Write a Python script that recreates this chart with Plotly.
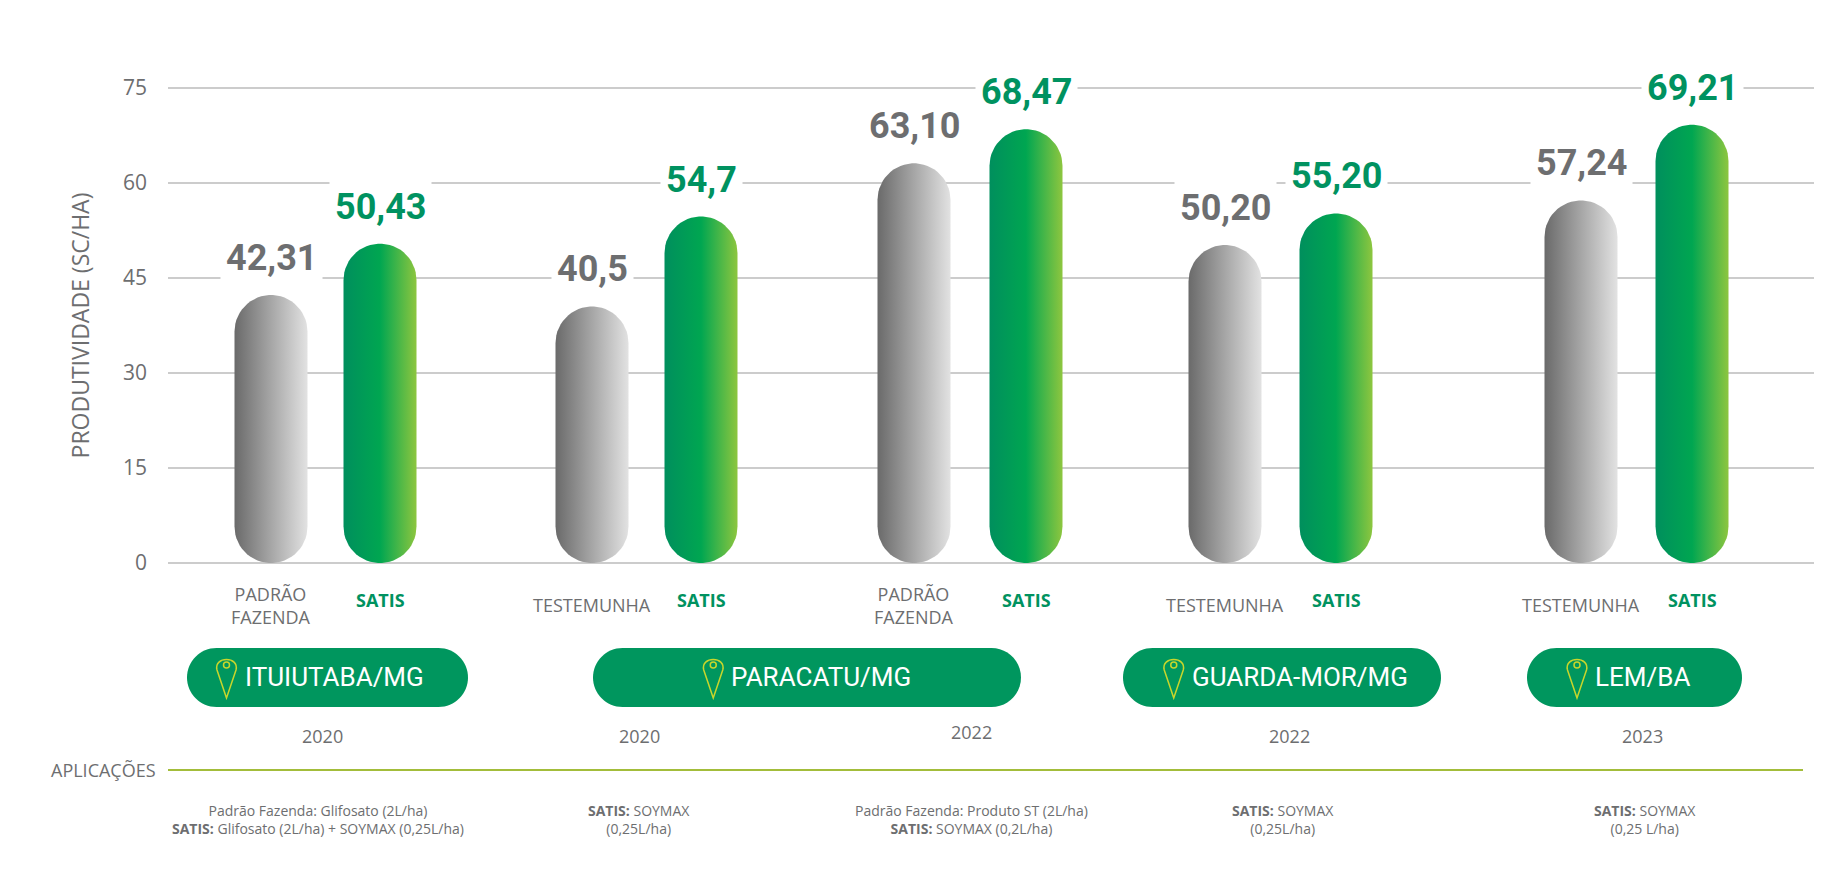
import numpy as np
import plotly.graph_objects as go

# dados
locais = ['ITUIUTABA/MG', 'PARACATU/MG', 'GUARDA-MOR/MG', 'LEM/BA']
anos = ['2020', '2020', '2022', '2022', '2023']
controle_nome = ['PADRÃO<br>FAZENDA', 'TESTEMUNHA', 'PADRÃO<br>FAZENDA', 'TESTEMUNHA', 'TESTEMUNHA']
controle_val = [42.31, 40.5, 63.10, 50.20, 57.24]
satis_val = [50.43, 54.7, 68.47, 55.20, 69.21]
controle_txt = ['42,31', '40,5', '63,10', '50,20', '57,24']
satis_txt = ['50,43', '54,7', '68,47', '55,20', '69,21']
aplicacoes = [
    'Padrão Fazenda: Glifosato (2L/ha)<br><b>SATIS:</b> Glifosato (2L/ha) + SOYMAX (0,25L/ha)',
    '<b>SATIS:</b> SOYMAX<br>(0,25L/ha)',
    'Padrão Fazenda: Produto ST (2L/ha)<br><b>SATIS:</b> SOYMAX (0,2L/ha)',
    '<b>SATIS:</b> SOYMAX<br>(0,25L/ha)',
    '<b>SATIS:</b> SOYMAX<br>(0,25 L/ha)',
]

# layout em pixels
W, H = 1836, 885
ML, MR, MT, MB = 160, 30, 78, 328
PW, PH = W - ML - MR, H - MT - MB
YLO, YHI = -0.3, 75.3
ppu = PH / (YHI - YLO)
x_ctrl = [103, 424, 746, 1057, 1413]
x_sat = [212, 533, 858, 1168, 1524]
x_ano = [154, 471, 803, 1121, 1474]
x_apl = [150, 471, 803, 1115, 1477]
pills = [(19, 300), (425, 853), (955, 1273), (1359, 1574)]
HW = 36.5
GRAY = '#6d6e70'
GREEN = '#009260'
NARROW = 'Roboto'


def pill_path(xc, v):
    ry = HW / ppu
    t1 = np.linspace(np.pi, 2 * np.pi, 30)
    t2 = np.linspace(0, np.pi, 30)
    xs = list(xc + HW * np.cos(t1)) + list(xc + HW * np.cos(t2))
    ys = list(ry + ry * np.sin(t1)) + list(v - ry + ry * np.sin(t2))
    return xs + [xs[0]], ys + [ys[0]]


def px(x):
    return x / PW


def py(y):
    return (MT + PH - y) / PH


fig = go.Figure()
for i in range(5):
    for xc, v, cs in [(x_ctrl[i], controle_val[i], [[0, '#6a6a6a'], [1, '#e2e2e2']]),
                      (x_sat[i], satis_val[i], [[0, '#008f5d'], [0.5, '#00a651'], [1, '#8dc63f']])]:
        xs, ys = pill_path(xc, v)
        fig.add_trace(go.Scatter(x=xs, y=ys, mode='lines', fill='toself', line=dict(width=0),
                                 fillgradient=dict(type='horizontal', colorscale=cs),
                                 hoverinfo='skip', showlegend=False))

ann = []
for i in range(5):
    for xc, v, t, c in [(x_ctrl[i], controle_val[i], controle_txt[i], GRAY),
                        (x_sat[i], satis_val[i], satis_txt[i], GREEN)]:
        ann.append(dict(x=xc, y=v, yshift=10, yanchor='bottom', xanchor='center', text='<b>' + t + '</b>',
                        showarrow=False, bgcolor='white', borderpad=5,
                        font=dict(family=NARROW, size=36, color=c)))
    ann.append(dict(x=x_ctrl[i], y=py(597), yref='paper', yanchor='middle', xanchor='center',
                    text=controle_nome[i], showarrow=False,
                    font=dict(family='Open Sans', size=18, color='#6d6e70')))
    ann.append(dict(x=x_sat[i], y=py(592), yref='paper', yanchor='middle', xanchor='center',
                    text='<b>SATIS</b>', showarrow=False,
                    font=dict(family='Open Sans', size=18, color=GREEN)))
    ann.append(dict(x=x_ano[i], y=py(728 if i != 2 else 724), yref='paper', yanchor='middle', xanchor='center',
                    text=anos[i], showarrow=False,
                    font=dict(family='Open Sans', size=18, color='#6d6e70')))
    ann.append(dict(x=x_apl[i], y=py(811), yref='paper', yanchor='middle', xanchor='center',
                    text=aplicacoes[i], showarrow=False,
                    font=dict(family='Open Sans', size=14, color='#6d6e70')))

shapes = []
y0p, y1p = 640, 699
r = (y1p - y0p) / 2
for (a, b), nome in zip(pills, locais):
    k = 0.5523
    path = (f'M {px(a + r)},{py(y0p)} L {px(b - r)},{py(y0p)} '
            f'C {px(b - r + k*r)},{py(y0p)} {px(b)},{py(y0p + r - k*r)} {px(b)},{py(y0p + r)} '
            f'C {px(b)},{py(y0p + r + k*r)} {px(b - r + k*r)},{py(y1p)} {px(b - r)},{py(y1p)} '
            f'L {px(a + r)},{py(y1p)} '
            f'C {px(a + r - k*r)},{py(y1p)} {px(a)},{py(y0p + r + k*r)} {px(a)},{py(y0p + r)} '
            f'C {px(a)},{py(y0p + r - k*r)} {px(a + r - k*r)},{py(y0p)} {px(a + r)},{py(y0p)} Z')
    shapes.append(dict(type='path', xref='paper', yref='paper', path=path, fillcolor='#00965e', line=dict(width=0)))
    # marcador
    tw = len(nome) * 14.5
    cx = (a + b) / 2 - tw / 2 - 14
    cy = 658
    pr = 10
    pin = (f'M {px(cx)},{py(cy + 32)} L {px(cx - pr*0.95)},{py(cy + 4)} '
           f'C {px(cx - pr*1.3)},{py(cy - 10)} {px(cx + pr*1.3)},{py(cy - 10)} {px(cx + pr*0.95)},{py(cy + 4)} Z')
    shapes.append(dict(type='path', xref='paper', yref='paper', path=pin, line=dict(color='#c8d62b', width=1.5)))
    shapes.append(dict(type='circle', xref='paper', yref='paper', x0=px(cx - 3), x1=px(cx + 3),
                       y0=py(cy + 2), y1=py(cy - 4), line=dict(color='#c8d62b', width=1.5)))
    ann.append(dict(x=px(cx + 16), xref='paper', xanchor='left', y=py(669), yref='paper', yanchor='middle',
                    text=nome, showarrow=False, font=dict(family=NARROW, size=26, color='white')))

shapes.append(dict(type='line', xref='paper', yref='paper', x0=0, x1=px(1635), y0=py(762), y1=py(762),
                   line=dict(color='#a3bd3a', width=2)))
ann.append(dict(x=px(-10), xref='paper', xanchor='right', y=py(762), yref='paper', yanchor='middle',
                text='APLICAÇÕES', showarrow=False, font=dict(family='Open Sans', size=18, color='#6d6e70')))

fig.update_layout(
    width=W, height=H, margin=dict(l=ML, r=MR, t=MT, b=MB),
    plot_bgcolor='white', paper_bgcolor='white', showlegend=False,
    xaxis=dict(range=[0, PW], visible=False, fixedrange=True),
    yaxis=dict(range=[YLO, YHI], tickvals=[0, 15, 30, 45, 60, 75], showgrid=True, gridcolor='#cccccc',
               gridwidth=2, zeroline=False, ticks='', ticklabelstandoff=20,
               tickfont=dict(family='Open Sans', size=21, color='#6d6e70'),
               title=dict(text='PRODUTIVIDADE (SC/HA)', standoff=26,
                          font=dict(family='Open Sans', size=23, color='#6d6e70'))),
    annotations=ann, shapes=shapes,
)
fig.write_html('out.html')
